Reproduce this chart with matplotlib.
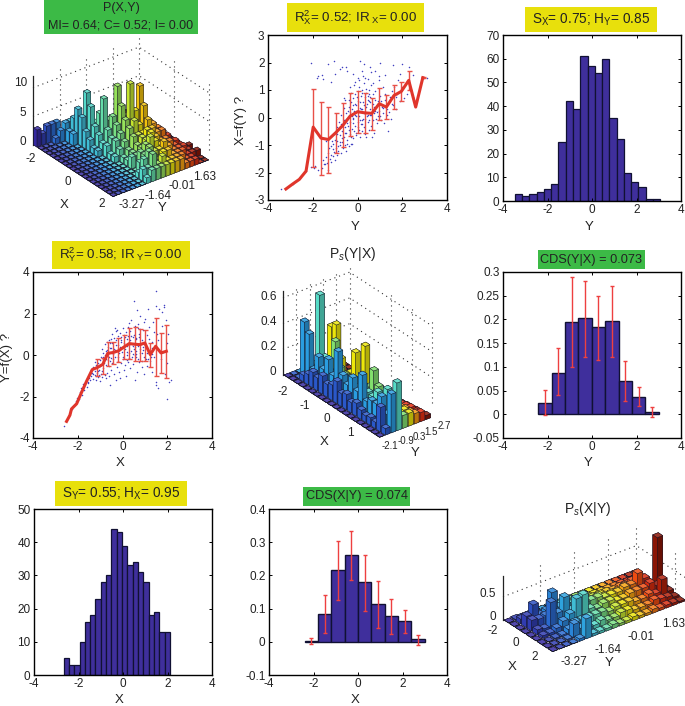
import matplotlib
matplotlib.use("Agg")
import numpy as np
import matplotlib.pyplot as plt
from matplotlib.colors import LinearSegmentedColormap, to_rgb
from matplotlib.patches import Rectangle
from mpl_toolkits.mplot3d import proj3d

W, H = 685, 706
plt.rcParams["font.family"] = ["Liberation Sans", "DejaVu Sans"]
plt.rcParams["mathtext.fontset"] = "custom"
plt.rcParams["mathtext.rm"] = "Liberation Sans"
plt.rcParams["mathtext.it"] = "Liberation Sans:italic"

GREEN = "#3cba46"
YELLOW = "#e8e00c"
PURPLE = "#3f2f9c"
RED = "#e0352b"
BLUE_DOT = "#4040c0"

# =============================
# histograms
# =============================
hist_y_start, hist_y_width = -3.47, 0.327
hist_y = [3, 2, 3, 4, 5, 7, 25, 42, 39, 61, 57, 54, 60, 35, 26, 12, 8, 6, 1, 1]

hist_x_start, hist_x_width = -2.67, 0.239
hist_x = [5, 3, 3, 10, 16, 18, 23, 28, 30, 44, 43, 39, 33, 34, 31, 28, 18, 19, 13, 13]

# =============================
# CDS bars + error bars
# =============================
cds_yx_centers = [-2.12, -1.52, -0.92, -0.31, 0.29, 0.9, 1.5, 2.1, 2.7]
cds_yx = [0.024, 0.088, 0.195, 0.202, 0.184, 0.197, 0.071, 0.037, 0.005]
cds_yx_low = [-0.002, 0.04, 0.1, 0.12, 0.115, 0.121, 0.027, 0.018, -0.006]
cds_yx_high = [0.052, 0.139, 0.29, 0.28, 0.25, 0.27, 0.112, 0.057, 0.015]

cds_xy_centers = [-2.1, -1.5, -0.9, -0.3, 0.3, 0.9, 1.5, 2.1, 2.7]
cds_xy = [0.003, 0.085, 0.215, 0.26, 0.18, 0.113, 0.079, 0.063, 0.007]
cds_xy_low = [-0.007, 0.027, 0.125, 0.185, 0.093, 0.043, 0.025, 0.027, -0.01]
cds_xy_high = [0.01, 0.142, 0.303, 0.334, 0.262, 0.183, 0.13, 0.095, 0.02]

# =============================
# X=f(Y) panel
# =============================
fy_line_x = [-3.2, -2.9, -2.6, -2.3, -1.98, -1.63, -1.3, -0.97, -0.65, -0.33, 0, 0.32, 0.64, 0.97, 1.29, 1.63, 1.96, 2.29, 2.6, 2.92]
fy_line_y = [-2.6, -2.42, -2.25, -1.95, -0.35, -0.75, -0.8, -0.55, -0.28, 0.05, 0.21, 0.17, 0.15, 0.5, 0.38, 0.8, 0.95, 1.35, 0.38, 1.45]
fy_err_x = [-1.98, -1.63, -1.3, -0.97, -0.65, -0.33, 0, 0.32, 0.64, 0.97, 1.29, 1.63, 1.96, 2.29, 2.92]
fy_err_low = [-1.8, -2.1, -2.0, -1.3, -1.08, -0.67, -0.55, -0.55, -0.45, -0.1, -0.05, 0.3, 0.6, 1.0, 1.42]
fy_err_high = [1.03, 0.58, 0.4, 0.18, 0.52, 0.88, 0.97, 0.9, 0.72, 1.08, 0.82, 1.2, 1.3, 1.68, 1.47]

fy_dots = [
    (-3.4, -2.6), (-3.2, -2.55), (-2.9, -2.4), (-2.55, -2.2), (-2.3, -1.95), (-2.1, -1.8), (-1.95, -1.85),
    (-1.9, -1.75), (-1.75, -1.9), (-1.6, -1.85), (-1.55, -1.55), (-1.5, -1.7), (-1.75, 1.5), (-1.8, 1.45),
    (-1.6, 1.55), (-1.55, 1.4), (-1.45, -1.7), (-1.4, -1.45), (-1.35, -1.65), (-1.3, -1.9), (-1.3, -1.3),
    (-1.25, -1.5), (-1.2, -1.6), (-1.2, -1.05), (-1.1, -1.4), (-1.1, -0.95), (-1.05, -1.25), (-1.0, -0.8),
    (-1.0, -1.55), (-0.95, -1.1), (-0.95, -0.55), (-0.9, -1.35), (-0.9, -0.85), (-0.85, -1.2), (-0.85, -0.4),
    (-0.8, -1.0), (-0.8, -0.65), (-0.75, -1.3), (-0.75, -0.25), (-0.7, -0.9), (-0.7, -0.5), (-0.65, -1.1),
    (-0.6, -0.7), (-0.6, -0.1), (-0.55, -1.0), (-0.55, -0.35), (-0.5, -1.2), (-0.5, 0.15), (-0.45, -0.8),
    (-0.45, -0.2), (-0.4, -1.05), (-0.4, 0.4), (-0.35, -0.6), (-0.35, 0.1), (-0.3, -0.95), (-0.3, 0.55),
    (-0.25, -0.4), (-0.25, 0.3), (-0.2, -0.75), (-0.2, 0.7), (-0.15, -0.5), (-0.15, 0.25), (-0.1, -0.3),
    (-0.1, 0.85), (-0.05, -0.65), (-0.05, 0.45), (0, -0.15), (0, 0.6), (0.05, -0.45), (0.05, 1.1), (0.1, -0.7),
    (0.1, 0.35), (0.15, -0.25), (0.15, 0.8), (0.2, -0.5), (0.2, 1.0), (0.25, -0.05), (0.25, 0.55), (0.3, -0.35),
    (0.3, 1.25), (0.35, -0.6), (0.35, 0.2), (0.4, -0.7), (0.4, 0.9), (0.45, -0.15), (0.45, 0.65), (0.5, -0.45),
    (0.5, 1.0), (0.55, 0.1), (0.55, 0.75), (0.6, -0.3), (0.6, 1.2), (0.65, -0.7), (0.7, -0.1), (0.7, 0.5),
    (0.75, -0.55), (0.8, 0.25), (0.8, 0.95), (0.85, -0.2), (0.9, 0.6), (0.95, 1.35), (1.0, 0.05), (1.0, 0.8),
    (1.05, -0.1), (1.1, 0.4), (1.15, 1.1), (1.2, -0.2), (1.25, 0.65), (1.3, 0.1), (1.35, -0.5), (1.4, 0.55),
    (1.5, -0.05), (1.55, 0.95), (1.6, 0.45), (1.7, 0.75), (1.8, 1.35), (1.9, 0.6), (2.0, 1.1), (2.1, 0.7),
    (2.2, 0.85), (2.3, 1.3), (2.5, 0.75), (2.95, 1.45), (3.1, 1.45), (-2.1, 2.0), (-1.05, 2.05), (-1.3, 1.95),
    (-0.8, 1.75), (-0.7, 1.85), (-0.5, 1.85), (-1.0, 1.6), (-1.2, 1.3), (-0.45, 1.7), (-0.2, 1.6), (0, 1.45),
    (0.1, 2.05), (0.2, 1.7), (0.3, 1.95), (0.55, 1.85), (0.8, 1.7), (1.0, 2.0), (1.25, 1.55), (1.6, 1.9),
    (2.0, 1.95), (-0.3, 0.9), (-0.1, 1.3), (0.25, 1.5), (0.45, 1.4), (0.7, 1.25), (0.95, 1.5), (-0.6, 0.7),
    (-0.35, 1.1), (-0.15, 1.2), (0.05, 1.35), (0.35, 1.45), (0.6, 1.65), (0.85, 0.2), (1.15, 0.35), (1.45, 0.75),
    (1.75, 0.85), (-1.15, -0.85), (-0.9, -0.6), (-0.65, -0.35), (-0.4, 0.65), (-0.05, 0.05), (0.15, 0.3),
    (0.5, 0.6), (0.75, 0.4), (1.05, 0.6), (1.3, 0.3), (-1.4, -0.85), (-1.05, -0.6), (-0.75, -0.35), (-0.55, 0.65),
    (-0.25, 0.05), (2.3, 1.85), (2.5, 1.55), (1.9, 1.6), (-0.5, -0.55), (-0.42, -0.3), (-0.32, -0.15),
    (-0.22, -0.05), (-0.12, 0.1), (-0.02, 0.25), (0.08, 0.05), (0.18, -0.1), (0.28, 0.15), (0.38, 0.4),
    (0.48, 0.1), (0.58, 0.3), (0.68, 0.85), (0.78, 0.65), (0.88, 0.45), (0.98, 0.25), (0.12, 0.55), (0.22, 0.3),
    (0.32, 0.75), (0.42, 0.5), (0.52, -0.1), (0.62, 0.1), (0.72, 0.15), (-0.08, -0.55), (-0.18, -0.2), (-0.28, -0.7),
    (-0.38, -0.45), (-0.48, -0.95), (-0.58, -0.55), (-0.68, -0.75), (-0.78, -0.9), (-0.88, -1.05), (-0.98, -1.25),
    (-1.08, -1.15), (-1.18, -1.35), (-1.28, -1.1), (-0.02, 0.75), (0.04, 0.95), (-0.12, 0.5), (-0.22, 0.45),
    (-0.32, 0.2), (0.12, -0.1), (0.22, -0.25), (0.32, -0.05), (0.42, 0.05), (0.52, 0.85), (0.82, -0.05), (0.92, 0.05),
    (1.12, 0.15), (1.22, 0.85), (1.32, 0.5), (1.42, 0.2), (1.52, 0.5), (1.62, 1.1), (1.72, 0.3), (-0.62, 0.35),
    (-0.72, 0.1), (-0.82, -0.15), (-0.92, -0.35), (-0.18, 0.0), (-0.08, 0.2), (0.02, -0.35), (-0.42, 0.25),
    (-0.52, -0.05), (-0.24, -0.95), (0.18, 0.9), (0.28, 0.45), (0.38, 1.05), (0.48, 0.8), (0.58, 0.55),
]

# =============================
# Y=f(X) panel
# =============================
fx_line_x = [-2.5, -2.35, -2.28, -2.05, -1.85, -1.6, -1.35, -1.12, -0.88, -0.66, -0.42, -0.18, 0.06, 0.3, 0.54, 0.78, 1.0, 1.24, 1.48, 1.72, 1.96]
fx_line_y = [-3.2, -2.9, -2.6, -2.35, -1.85, -1.25, -0.7, -0.6, -0.45, 0.08, 0.12, 0.2, 0.38, 0.55, 0.52, 0.5, 0.58, 0.02, 0.42, 0.1, 0.18]
fx_err_x = [-1.12, -0.88, -0.66, -0.42, -0.18, 0.06, 0.3, 0.54, 0.78, 1.0, 1.24, 1.48, 1.72, 1.96]
fx_err_low = [-1.0, -0.9, -0.55, -0.45, -0.35, -0.2, -0.2, -0.3, -0.3, -0.3, -0.6, -1.0, -0.85, -1.1]
fx_err_high = [-0.2, -0.15, 0.65, 0.65, 0.8, 0.95, 1.3, 1.35, 1.25, 1.2, 0.6, 1.8, 1.05, 1.45]

fx_dots = [
    (-2.6, -3.4), (-2.4, -2.9), (-2.25, -2.6), (-2.2, -2.45), (-2.1, -2.2), (-2.05, -2.05), (-1.95, -2.1),
    (-1.9, -1.8), (-1.85, -1.6), (-1.8, -1.95), (-1.75, -1.4), (-1.7, -1.7), (-1.7, -1.45), (-1.65, -1.3),
    (-1.6, -1.55), (-1.6, -1.15), (-1.55, -1.35), (-1.5, -1.1), (-1.5, -0.95), (-1.45, -1.2), (-1.4, -1.0),
    (-1.4, -0.7), (-1.35, -0.85), (-1.3, -1.15), (-1.3, -0.6), (-1.25, -0.95), (-1.2, -1.2), (-1.2, -0.5),
    (-1.15, -0.85), (-1.1, -1.05), (-1.1, -0.4), (-1.05, -0.7), (-1.0, -1.25), (-1.0, -0.25), (-0.95, -0.9),
    (-0.95, -0.1), (-0.9, -1.05), (-0.9, 0.3), (-0.85, -0.65), (-0.85, 0.1), (-0.8, -0.95), (-0.8, 0.55),
    (-0.75, -0.5), (-0.75, 0.2), (-0.7, -0.85), (-0.7, 0.65), (-0.65, -0.25), (-0.65, 0.4), (-0.6, -1.0),
    (-0.6, 0.1), (-0.55, -1.45), (-0.55, 0.6), (-0.5, -0.7), (-0.5, 0.35), (-0.45, -0.4), (-0.45, 1.0),
    (-0.4, -0.9), (-0.4, 0.8), (-0.35, -0.1), (-0.35, 1.3), (-0.3, -1.2), (-0.3, 0.5), (-0.25, -0.6), (-0.25, 1.2),
    (-0.2, -0.3), (-0.2, 0.9), (-0.15, -0.8), (-0.15, 0.1), (-0.1, -1.1), (-0.1, 1.05), (-0.05, -0.4), (-0.05, 0.65),
    (0, -0.2), (0, 1.3), (0.05, -0.7), (0.05, 0.95), (0.1, -0.5), (0.1, 0.3), (0.15, -1.0), (0.15, 1.1), (0.2, 0.15),
    (0.2, 0.75), (0.25, -0.35), (0.25, 1.35), (0.3, -0.15), (0.3, 0.5), (0.35, -0.65), (0.35, 1.15), (0.4, 0.2),
    (0.4, 1.7), (0.45, -0.45), (0.45, 0.85), (0.5, 0.3), (0.5, 2.6), (0.55, -1.2), (0.55, 1.4), (0.6, -0.1),
    (0.6, 0.75), (0.65, -0.8), (0.65, 2.15), (0.7, 0.45), (0.7, 1.5), (0.75, -0.35), (0.75, 1.0), (0.8, 0.1),
    (0.8, 1.9), (0.85, -0.6), (0.85, 0.7), (0.9, 0.25), (0.9, 1.2), (0.95, -0.9), (1.0, 0.5), (1.0, 1.75),
    (1.05, -0.2), (1.1, -0.55), (1.1, 0.95), (1.15, 2.2), (1.2, 0.2), (1.2, 1.35), (1.25, -0.3), (1.3, -0.8),
    (1.3, 0.65), (1.35, 1.6), (1.4, -0.1), (1.4, 1.1), (1.45, 0.4), (1.5, -1.3), (1.5, 2.35), (1.55, 1.0),
    (1.6, -1.6), (1.6, 0.7), (1.65, 2.2), (1.7, -0.2), (1.75, 1.4), (1.8, 0.15), (1.85, 2.4), (1.9, -0.9),
    (1.95, 1.7), (2.0, -0.4), (2.0, 0.6), (2.0, -2.1), (2.05, 1.0), (2.1, -1.3), (2.15, -1.2), (1.5, 3.1),
    (1.5, -1.45), (0.3, 1.55), (0.55, 0.0), (0.8, 1.25), (1.75, 2.05), (1.85, 2.3), (-0.5, 0.75), (-0.3, 1.15),
    (-0.85, -0.1), (0.6, 0.8), (0.85, -0.3), (1.1, 0.35), (0.25, 0.9), (0.95, 1.6), (1.3, 0.35), (0.7, 1.3),
    (-0.05, 0.85), (0.45, 0.45), (-1.25, -0.35), (-1.05, -0.95), (-0.75, -1.1), (-0.6, 0.7), (-0.55, -0.3),
    (-1.62, -1.25), (-1.52, -1.3), (-1.42, -0.85), (-1.32, -0.9), (-1.22, -0.75), (-1.12, -0.6), (-1.02, -0.55),
    (-0.92, -0.75), (-0.82, -0.4), (-0.72, -0.2), (-0.62, -0.55), (-0.52, -0.15), (-0.42, 0.05), (-0.32, 0.25),
    (-0.22, -0.1), (-0.12, 0.4), (-0.02, 0.15), (0.08, 0.6), (0.18, -0.25), (0.28, 0.1), (0.38, 0.9), (0.48, 0.05),
    (0.58, 0.4), (0.68, -0.2), (0.78, 0.3), (0.88, 0.1), (0.98, -0.1), (1.08, 0.1), (1.18, 0.75), (1.28, -0.1),
    (-0.68, 0.25), (-0.58, 0.35), (-0.48, 0.6), (-0.38, 0.3), (-0.28, 0.7), (-0.18, 0.5), (-0.08, 0.7), (0.02, 0.4),
    (0.12, 0.85), (0.22, 0.45), (0.32, 0.7), (0.42, 0.55), (0.52, 0.95), (0.62, 0.2), (0.72, 0.85), (0.82, 0.55),
    (-0.88, -0.2), (-0.78, 0.0), (-0.98, -0.5), (-1.08, -0.75), (-1.18, -1.0), (-0.62, -0.1), (-0.42, -0.2),
    (-0.22, 0.25), (0.02, -0.1), (0.22, 0.0), (0.42, -0.1), (0.62, 0.05), (0.92, 0.4), (1.12, -0.2), (1.32, 0.05),
]

# =============================
# 3D panels, rows = X bins, columns = Y bins
# =============================
joint_xy = [
    [3, 2, 3, 3, 3, 0, 0, 0, 0, 0, 0, 0, 0, 0, 0, 0, 0, 0, 0, 0],
    [0, 0, 0, 1, 2, 3, 3, 0, 0, 0, 0, 0, 0, 0, 0, 0, 0, 0, 0, 0],
    [0, 0, 0, 0, 0, 2, 4, 1, 1, 0, 0, 0, 0, 0, 0, 0, 0, 0, 0, 0],
    [0, 0, 0, 0, 0, 2, 6, 3, 2, 1, 0, 0, 0, 0, 0, 0, 0, 0, 0, 0],
    [0, 0, 0, 0, 0, 0, 5, 9, 3, 2, 1, 0, 0, 0, 0, 0, 0, 0, 0, 0],
    [0, 0, 0, 0, 0, 0, 3, 7, 4, 3, 3, 1, 0, 0, 0, 0, 0, 0, 0, 0],
    [0, 0, 0, 0, 0, 0, 2, 4, 6, 4, 4, 2, 0, 0, 0, 0, 0, 0, 0, 0],
    [0, 0, 0, 0, 0, 0, 1, 3, 9, 5, 5, 3, 2, 1, 0, 0, 0, 0, 0, 0],
    [0, 0, 0, 0, 0, 0, 1, 2, 4, 6, 11, 5, 3, 2, 1, 0, 0, 0, 0, 0],
    [0, 0, 0, 0, 0, 0, 0, 2, 3, 5, 8, 6, 5, 3, 2, 1, 0, 0, 0, 0],
    [0, 0, 0, 0, 0, 0, 0, 1, 3, 4, 6, 12, 7, 11, 4, 3, 1, 0, 0, 0],
    [0, 0, 0, 0, 0, 0, 0, 1, 2, 3, 5, 6, 5, 8, 5, 3, 2, 1, 0, 0],
    [0, 0, 0, 0, 0, 0, 0, 0, 1, 2, 4, 4, 4, 6, 5, 4, 3, 2, 0, 0],
    [0, 0, 0, 0, 0, 0, 0, 0, 1, 2, 3, 4, 5, 5, 4, 4, 2, 1, 1, 0],
    [0, 0, 0, 0, 0, 0, 0, 0, 2, 2, 3, 4, 5, 4, 3, 3, 2, 2, 1, 0],
    [0, 0, 0, 0, 0, 0, 0, 0, 0, 3, 4, 5, 4, 3, 3, 3, 2, 1, 1, 1],
    [0, 0, 0, 0, 0, 0, 0, 0, 2, 3, 4, 3, 3, 4, 3, 2, 2, 2, 1, 0],
    [0, 0, 0, 0, 0, 0, 0, 1, 3, 4, 3, 2, 3, 3, 2, 2, 2, 1, 1, 1],
    [0, 0, 0, 0, 0, 0, 0, 2, 2, 4, 2, 3, 2, 2, 2, 2, 1, 1, 0, 0],
    [0, 0, 0, 0, 0, 0, 0, 1, 2, 2, 2, 2, 2, 2, 2, 1, 1, 1, 0, 0],
]

cond_yx = [
    [0, 0, 0, 0, 0, 0, 0, 0, 0],
    [0, 0, 0.42, 0, 0, 0, 0, 0, 0],
    [0, 0.05, 0.35, 0.1, 0, 0, 0, 0, 0],
    [0, 0.08, 0.1, 0.66, 0.05, 0.38, 0, 0, 0],
    [0, 0.12, 0.22, 0.2, 0.1, 0.42, 0, 0, 0],
    [0, 0.1, 0.15, 0.12, 0.33, 0.18, 0, 0, 0],
    [0, 0.14, 0.25, 0.1, 0.15, 0.08, 0, 0, 0],
    [0, 0.1, 0.15, 0.1, 0.12, 0.12, 0.02, 0, 0],
    [0, 0.12, 0.36, 0.15, 0.1, 0.3, 0, 0, 0],
    [0, 0.17, 0.2, 0.12, 0.1, 0.1, 0.02, 0, 0],
    [0, 0.1, 0.15, 0.18, 0.12, 0.4, 0.02, 0, 0],
    [0, 0.12, 0.23, 0.14, 0.1, 0.1, 0.03, 0, 0],
    [0, 0.08, 0.15, 0.18, 0.15, 0.08, 0.04, 0.01, 0],
    [0, 0.1, 0.3, 0.15, 0.3, 0.1, 0.04, 0.02, 0],
    [0, 0.07, 0.12, 0.14, 0.2, 0.1, 0.05, 0.03, 0],
    [0, 0.05, 0.15, 0.2, 0.15, 0.1, 0.06, 0.04, 0.01],
    [0, 0.06, 0.15, 0.14, 0.12, 0.1, 0.06, 0.05, 0.01],
    [0, 0.05, 0.23, 0.27, 0.1, 0.08, 0.07, 0.06, 0.02],
    [0, 0.19, 0.12, 0.15, 0.08, 0.1, 0.07, 0.05, 0.02],
    [0, 0.05, 0.3, 0.37, 0.1, 0.1, 0.08, 0.07, 0.03],
]

cond_xy = [
    [0, 0.02, 0, 0, 0, 0, 0, 0, 0, 0, 0, 0, 0, 0, 0, 0, 0, 0, 0, 0],
    [0, 0.1, 0.05, 0.1, 0.05, 0.05, 0.05, 0.1, 0.05, 0.05, 0.03, 0.03, 0.03, 0.03, 0.03, 0.03, 0.03, 0.02, 0, 0],
    [0, 0.24, 0.43, 0.15, 0.2, 0.2, 0.1, 0.12, 0.1, 0.08, 0.08, 0.1, 0.1, 0.1, 0.08, 0.1, 0.1, 0.1, 0.05, 0],
    [0, 0.23, 0.2, 0.22, 0.66, 0.3, 0.3, 0.25, 0.25, 0.25, 0.15, 0.2, 0.15, 0.15, 0.15, 0.2, 0.25, 0.1, 0.1, 0],
    [0, 0.1, 0.07, 0.58, 0.3, 0.58, 0.25, 0.4, 0.3, 0.3, 0.3, 0.25, 0.25, 0.25, 0.3, 0.3, 0.49, 0.33, 0.15, 1.1],
    [0, 0.05, 0.05, 0.1, 0.2, 0.3, 0.57, 0.6, 0.25, 0.2, 0.25, 0.25, 0.2, 0.2, 0.25, 0.25, 0.25, 0.3, 0.2, 0.1],
    [0, 0, 0.02, 0.03, 0.1, 0.2, 0.2, 0.2, 0.2, 0.2, 0.15, 0.2, 0.2, 0.2, 0.15, 0.15, 0.2, 0.15, 0.4, 0.1],
    [0, 0, 0, 0.02, 0.29, 0.15, 0.1, 0.1, 0.15, 0.1, 0.1, 0.15, 0.15, 0.1, 0.1, 0.1, 0.15, 0.12, 0.1, 0.05],
    [0, 0, 0, 0, 0.05, 0.43, 0.05, 0.05, 0.05, 0.08, 0.05, 0.05, 0.08, 0.05, 0.05, 0.08, 0.05, 0.06, 0.05, 0.03],
]

bar_cmap = LinearSegmentedColormap.from_list(
    "jetish", ["#3528a0", "#2a58c8", "#2a9ce0", "#55dcc8", "#80e070", "#ece80a", "#f89a10", "#ea3010", "#8a1505"])


def px_text(fig, x, y, s, size=8.5, **kw):
    kw.setdefault("ha", "center")
    kw.setdefault("va", "center")
    fig.text(x / W, 1 - y / H, s, fontsize=size, color="#222222", **kw)


def title_box(fig, left, top, right, bottom, color, lines, size=9.2):
    fig.add_artist(Rectangle((left / W, 1 - bottom / H), (right - left) / W, (bottom - top) / H,
                             transform=fig.transFigure, color=color, lw=0))
    step = (bottom - top) / len(lines)
    for n, line in enumerate(lines):
        px_text(fig, (left + right) / 2, top + step * (n + 0.5), line, size=size)


def axes_2d(fig, left, top, right, bottom, ylim, yticks, yticklabels):
    ax = fig.add_axes([left / W, 1 - bottom / H, (right - left) / W, (bottom - top) / H])
    ax.set_xlim(-4, 4)
    ax.set_ylim(*ylim)
    ax.set_xticks([-4, -2, 0, 2, 4])
    ax.set_xticklabels(["-4", "-2", "0", "2", "4"])
    ax.set_yticks(yticks)
    ax.set_yticklabels(yticklabels)
    ax.tick_params(direction="in", length=2.5, width=0.7, labelsize=8.5, top=True, right=True, pad=2.5,
                   labelcolor="#222222")
    for spine in ax.spines.values():
        spine.set_linewidth(1.0)
    return ax


def hist_panel(ax, start, width, values):
    centers = start + width * (np.arange(len(values)) + 0.5)
    ax.bar(centers, values, width=width, color=PURPLE, edgecolor="#111133", linewidth=0.9)


def cds_panel(ax, centers, values, low, high):
    edges = np.array(centers)
    ax.bar(edges, values, width=0.6, color=PURPLE, edgecolor="#111133", linewidth=1.0)
    low, high = np.array(low), np.array(high)
    ax.errorbar(edges, (low + high) / 2, yerr=(high - low) / 2, fmt="none", ecolor="#ee4040", elinewidth=1.0,
                capsize=1.2, capthick=1.0)


def fit_panel(ax, dots, line_x, line_y, err_x, low, high):
    dots = np.array(dots)
    ax.scatter(dots[:, 0], dots[:, 1], s=1.2, color=BLUE_DOT, linewidths=0)
    low, high = np.array(low), np.array(high)
    ax.errorbar(err_x, (low + high) / 2, yerr=(high - low) / 2, fmt="none", ecolor="#e85048", elinewidth=1.0,
                capsize=1.8, capthick=1.0)
    ax.plot(line_x, line_y, color=RED, lw=2.2, solid_joinstyle="round")


def axes_3d(fig, box, xlim, ylim, zlim, left_corner, front_corner, front_index):
    size = 320
    ax = fig.add_axes([0, 0, size / W, size / H], projection="3d", proj_type="ortho", computed_zorder=False)
    ax.view_init(elev=30, azim=-37.5)
    ax.set_xlim(*xlim)
    ax.set_ylim(*ylim)
    ax.set_zlim(*zlim)
    ax.set_axis_off()
    ax.patch.set_visible(False)
    zoom = 1.0

    # scale and shift the axes so two floor corners land on the reference pixels
    def project(px, py):
        x2, y2, _ = proj3d.proj_transform(px, py, 0, ax.get_proj())
        ax.apply_aspect()
        return ax.transData.transform((x2, y2))

    ax.set_box_aspect(box, zoom=zoom)
    a, b = project(0, 0), project(front_index, 0)
    zoom *= np.hypot(front_corner[0] - left_corner[0], front_corner[1] - left_corner[1]) / np.hypot(*(b - a))
    ax.set_box_aspect(box, zoom=zoom)
    a = project(0, 0)
    dx = left_corner[0] - a[0]
    dy = (H - left_corner[1]) - a[1]
    ax.set_position([dx / W, dy / H, size / W, size / H])
    return ax


def walls(ax, xmax, ymax, zmax, x_ticks, y_ticks, z_ticks):
    dot = dict(color="#333333", lw=0.8, ls=(0, (1, 3.5)), zorder=1)
    for y in y_ticks:
        ax.plot([0, 0], [y, y], [0, zmax], **dot)
    for x in x_ticks:
        ax.plot([x, x], [ymax, ymax], [0, zmax], **dot)
    for z in z_ticks:
        ax.plot([0, 0, xmax], [0, ymax, ymax], [z, z, z], **dot)
    ax.plot([0, 0], [0, 0], [0, zmax], color="#222222", lw=0.9, zorder=2)


def face_colors(base):
    # order used by bar3d: bottom, top, -y, +y, -x, +x
    base = np.array(to_rgb(base))
    top = base + (1 - base) * 0.15
    left = base
    right = base * 0.75
    return [base, top, left, base, base, right]


def bars_3d(ax, matrix, zmax, width=0.82):
    matrix = np.array(matrix, dtype=float)
    n_rows, n_cols = matrix.shape
    floor = zmax * 0.002
    gap = (1 - width) / 2
    order = 10
    for j in range(n_rows):
        for i in range(n_cols - 1, -1, -1):
            colors = face_colors(bar_cmap(i / (n_cols - 1))[:3])
            ax.bar3d(j + gap, i + gap, 0, width, width, max(matrix[j, i], floor), color=colors, edgecolor="#151525",
                     linewidth=0.3, shade=False, zorder=order)
            order += 1


fig = plt.figure(figsize=(W / 100, H / 100), dpi=100)

# =============================
# top row
# =============================
title_box(fig, 44, 0, 198, 34, GREEN, ["P(X,Y)", "MI= 0.64; C= 0.52; I= 0.00"], size=9.0)
ax = axes_3d(fig, (399, 406, 241), (0, 20), (0, 22), (0, 12), (33, 145), (113, 197), 20)
walls(ax, 17.5, 22, 12, [8.75, 17.5], [5.5, 11, 16.5, 22], [5, 10])
bars_3d(ax, joint_xy, 12)
for x, y, s in [(21, 83, "10"), (23, 113, "5"), (23, 142, "0"), (31, 159, "-2"), (68, 182, "0"), (102, 204, "2"),
                (132, 205, "-3.27"), (158, 196, "-1.64"), (182, 186, "-0.01"), (205, 177, "1.63")]:
    px_text(fig, x, y, s)
px_text(fig, 64, 205, "X", size=9.5)
px_text(fig, 162, 208, "Y", size=9.5)

title_box(fig, 287, 3, 424, 32, YELLOW, [r"R$^{2}_{\mathrm{X}}$= 0.52; IR$_{\ \mathrm{X}}$= 0.00"], size=9.6)
ax = axes_2d(fig, 268, 35, 447, 200, (-3, 3), [-3, -2, -1, 0, 1, 2, 3], ["-3", "-2", "-1", "0", "1", "2", "3"])
fit_panel(ax, fy_dots, fy_line_x, fy_line_y, fy_err_x, fy_err_low, fy_err_high)
px_text(fig, 355, 227, "Y", size=9.5)
px_text(fig, 241, 120, "X=f(Y) ?", size=9.5, rotation=90)

title_box(fig, 525, 7, 657, 32, YELLOW, [r"S$_{\mathrm{X}}$= 0.75; H$_{\mathrm{Y}}$= 0.85"], size=9.8)
ax = axes_2d(fig, 503, 35, 681, 201, (0, 70), [0, 10, 20, 30, 40, 50, 60, 70],
             ["0", "10", "20", "30", "40", "50", "60", "70"])
hist_panel(ax, hist_y_start, hist_y_width, hist_y)
px_text(fig, 589, 227, "Y", size=9.5)

# =============================
# middle row
# =============================
title_box(fig, 52, 241, 190, 269, YELLOW, [r"R$^{2}_{\mathrm{Y}}$= 0.58; IR$_{\ \mathrm{Y}}$= 0.00"], size=9.6)
ax = axes_2d(fig, 33, 272, 212, 438, (-4, 4), [-4, -2, 0, 2, 4], ["-4", "-2", "0", "2", "4"])
fit_panel(ax, fx_dots, fx_line_x, fx_line_y, fx_err_x, fx_err_low, fx_err_high)
px_text(fig, 120, 463, "X", size=9.5)
px_text(fig, 7, 357, "Y=f(X) ?", size=9.5, rotation=90)

px_text(fig, 353, 254, r"P$_{s}$(Y|X)", size=10)
ax = axes_3d(fig, (472, 250, 288), (0, 20), (0, 11.5), (0, 0.65), (283, 375), (380, 437), 20)
walls(ax, 17, 11.5, 0.65, [8.5, 13, 17], [2.3, 4.6, 6.9, 9.2, 11.5], [0.2, 0.4, 0.6])
bars_3d(ax, cond_yx, 0.65)
for x, y, s in [(269, 297, "0.6"), (269, 322, "0.4"), (269, 347, "0.2"), (273, 372, "0"), (283, 392, "-2"),
                (305, 406, "-1"), (327, 419, "0"), (350, 433, "1")]:
    px_text(fig, x, y, s)
for x, y, s in [(390, 446, "-2.1"), (406, 441, "-0.9"), (419, 437, "0.3"), (431, 432, "1.5"), (444, 426, "2.7")]:
    px_text(fig, x, y, s, size=7)
px_text(fig, 324, 442, "X", size=9.5)
px_text(fig, 415, 453, "Y", size=9.5)

title_box(fig, 538, 250, 645, 269, GREEN, ["CDS(Y|X) = 0.073"])
ax = axes_2d(fig, 503, 272, 681, 438, (-0.05, 0.3), [-0.05, 0, 0.05, 0.1, 0.15, 0.2, 0.25, 0.3],
             ["-0.05", "0", "0.05", "0.1", "0.15", "0.2", "0.25", "0.3"])
cds_panel(ax, cds_yx_centers, cds_yx, cds_yx_low, cds_yx_high)
px_text(fig, 588, 463, "Y", size=9.5)

# =============================
# bottom row
# =============================
title_box(fig, 55, 481, 187, 506, YELLOW, [r"S$_{\mathrm{Y}}$= 0.55; H$_{\mathrm{X}}$= 0.95"], size=9.8)
ax = axes_2d(fig, 34, 509, 212, 675, (0, 50), [0, 10, 20, 30, 40, 50], ["0", "10", "20", "30", "40", "50"])
hist_panel(ax, hist_x_start, hist_x_width, hist_x)
px_text(fig, 119, 700, "X", size=9.5)

title_box(fig, 303, 487, 410, 506, GREEN, ["CDS(X|Y) = 0.074"])
ax = axes_2d(fig, 269, 509, 447, 675, (-0.1, 0.4), [-0.1, 0, 0.1, 0.2, 0.3, 0.4],
             ["-0.1", "0", "0.1", "0.2", "0.3", "0.4"])
cds_panel(ax, cds_xy_centers, cds_xy, cds_xy_low, cds_xy_high)
px_text(fig, 355, 700, "X", size=9.5)

px_text(fig, 588, 509, r"P$_{s}$(X|Y)", size=10)
ax = axes_3d(fig, (238, 492, 150), (0, 9), (0, 20), (0, 0.955), (503, 620), (552, 653), 9)
walls(ax, 9, 20, 0.955, [7, 9], [5.5, 10.6, 15.8, 20], [0.5])
bars_3d(ax, cond_xy, 0.955)
for x, y, s in [(488, 594, "0.5"), (493, 617, "0"), (493, 631, "-2"), (516, 643, "0"), (535, 657, "2"),
                (574, 662, "-3.27"), (608, 650, "-1.64"), (641, 637, "-0.01"), (674, 624, "1.63")]:
    px_text(fig, x, y, s)
px_text(fig, 512, 667, "X", size=9.5)
px_text(fig, 609, 663, "Y", size=9.5)

fig.savefig("out.png", dpi=100)
plt.close(fig)
